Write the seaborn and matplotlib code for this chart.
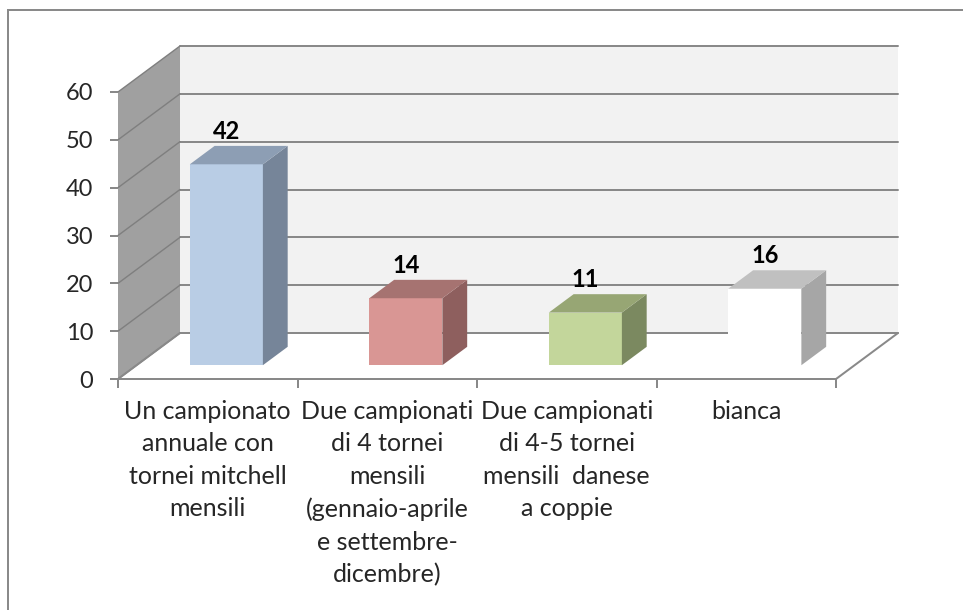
import matplotlib
matplotlib.use("Agg")
import matplotlib.pyplot as plt
import seaborn as sns
import numpy as np
from matplotlib.patches import Polygon, Rectangle
from matplotlib.lines import Line2D
from matplotlib.transforms import ScaledTranslation, IdentityTransform

# ---- data ----
categories = [
    "Un campionato\nannuale con\ntornei mitchell\nmensili",
    "Due campionati\ndi 4 tornei\nmensili\n(gennaio-aprile\ne settembre-\ndicembre)",
    "Due campionati\ndi 4-5 tornei\nmensili  danese\na coppie",
    "bianca",
]
values = [42, 14, 11, 16]
y_ticks = [0, 10, 20, 30, 40, 50, 60]
front_colors = ["#b9cde5", "#d99694", "#c3d69b", "#ffffff"]
side_colors = ["#768599", "#8e5f5e", "#7b8960", "#a6a6a6"]
top_colors = ["#8d9eb4", "#a67371", "#97a674", "#c0c0c0"]

sns.set_style("white")
plt.rcParams["font.family"] = ["Lato", "DejaVu Sans"]

W, H, DPI = 963, 610, 100
fig = plt.figure(figsize=(W / DPI, H / DPI), dpi=DPI)
fig.patch.set_facecolor("white")

# front plane in pixels (from top)
L, R, B, T = 118, 836, 379, 92
ax = fig.add_axes([L / W, (H - B) / H, (R - L) / W, (B - T) / H])
DX, DY = 62, 46  # depth offset (px)
FRONT_F, DEPTH_F = 0.30, 0.40

sns.barplot(x=categories, y=values, hue=categories, palette=front_colors,
            width=0.407, legend=False, saturation=1, ax=ax, linewidth=0)
bars = list(ax.patches)
ax.set_xlim(-0.5, 3.5)
ax.set_ylim(0, 60)
ax.patch.set_visible(False)
for s in ax.spines.values():
    s.set_visible(False)

grid_col = "#898989"
lwpx = 2.0 * 72 / DPI


def P(x, y, d):
    px, py = ax.transData.transform((x, y))
    return (px + d * DX, py + d * DY)


ident = IdentityTransform()
# back wall
ax.add_patch(Polygon([P(-0.5, 0, 1), P(3.5, 0, 1), P(3.5, 60, 1), P(-0.5, 60, 1)],
                     closed=True, facecolor="#f2f2f2", edgecolor="none",
                     transform=ident, clip_on=False, zorder=0.2))
# left wall
ax.add_patch(Polygon([P(-0.5, 0, 0), P(-0.5, 0, 1), P(-0.5, 60, 1), P(-0.5, 60, 0)],
                     closed=True, facecolor="#a0a0a0", edgecolor="none",
                     transform=ident, clip_on=False, zorder=0.2))
# floor
ax.add_patch(Polygon([P(-0.5, 0, 0), P(3.5, 0, 0), P(3.5, 0, 1), P(-0.5, 0, 1)],
                     closed=True, facecolor="white", edgecolor="none",
                     transform=ident, clip_on=False, zorder=0.2))
# gridlines
for t in y_ticks:
    a, b = P(-0.5, t, 1), P(3.5, t, 1)
    ax.add_line(Line2D([a[0], b[0]], [a[1], b[1]], color=grid_col, lw=lwpx,
                       transform=ident, clip_on=False, zorder=0.5))
    c = P(-0.5, t, 0)
    ax.add_line(Line2D([c[0], a[0]], [c[1], a[1]], color="#7f7f7f", lw=lwpx * 0.7,
                       transform=ident, clip_on=False, zorder=0.5))
# floor edges
for p1, p2 in [(P(-0.5, 0, 0), P(3.5, 0, 0)), (P(3.5, 0, 0), P(3.5, 0, 1)),
               (P(-0.5, 0, 0), P(-0.5, 0, 1))]:
    ax.add_line(Line2D([p1[0], p2[0]], [p1[1], p2[1]], color=grid_col, lw=lwpx,
                       transform=ident, clip_on=False, zorder=0.6))

# bars as 3D boxes
bar_trans = ax.transData + ScaledTranslation(FRONT_F * DX / DPI, FRONT_F * DY / DPI,
                                             fig.dpi_scale_trans)
dx, dy = DEPTH_F * DX, DEPTH_F * DY
for i, bar in enumerate(bars):
    bar.set_transform(bar_trans)
    bar.set_zorder(3)
    bar.set_clip_on(False)
    x0 = bar.get_x()
    x1 = x0 + bar.get_width()
    h = bar.get_height()
    fb = bar_trans.transform((x1, 0))
    ft = bar_trans.transform((x1, h))
    lt = bar_trans.transform((x0, h))
    side = [fb, ft, (ft[0] + dx, ft[1] + dy), (fb[0] + dx, fb[1] + dy)]
    top = [lt, ft, (ft[0] + dx, ft[1] + dy), (lt[0] + dx, lt[1] + dy)]
    ax.add_patch(Polygon(side, closed=True, facecolor=side_colors[i], edgecolor="none",
                         transform=ident, clip_on=False, zorder=3))
    ax.add_patch(Polygon(top, closed=True, facecolor=top_colors[i], edgecolor="none",
                         transform=ident, clip_on=False, zorder=3))
    ax.text(x0 + bar.get_width() / 2, h, str(values[i]), ha="center", va="bottom",
            fontsize=17, fontweight="bold", color="black", zorder=4,
            transform=bar_trans + ScaledTranslation(0, (dy + 3) / DPI, fig.dpi_scale_trans))

# ticks
ax.set_yticks(y_ticks)
ax.set_yticklabels([str(t) for t in y_ticks])
ax.tick_params(axis="y", length=8 * 0.72, width=lwpx, color=grid_col, pad=12,
               labelsize=17, left=True)
ax.set_xticks(range(len(categories)))
ax.set_xticklabels(categories, linespacing=1.5)
for lab in ax.get_xticklabels():
    lab.set_multialignment("center")
ax.set_xticks(np.arange(-0.5, 4, 1), minor=True)
ax.tick_params(axis="x", which="major", length=0, pad=15, labelsize=18)
ax.tick_params(axis="x", which="minor", length=9 * 0.72, width=lwpx, color=grid_col,
               bottom=True)
ax.set_xlabel("")
ax.set_ylabel("")

# outer border
fig.add_artist(Rectangle((8 / W, -0.1), 1.2, (H - 10) / H + 0.1, transform=fig.transFigure,
                         fill=False, edgecolor="#8a8a8a", lw=lwpx))

fig.savefig("out.png", dpi=DPI, facecolor="white")
